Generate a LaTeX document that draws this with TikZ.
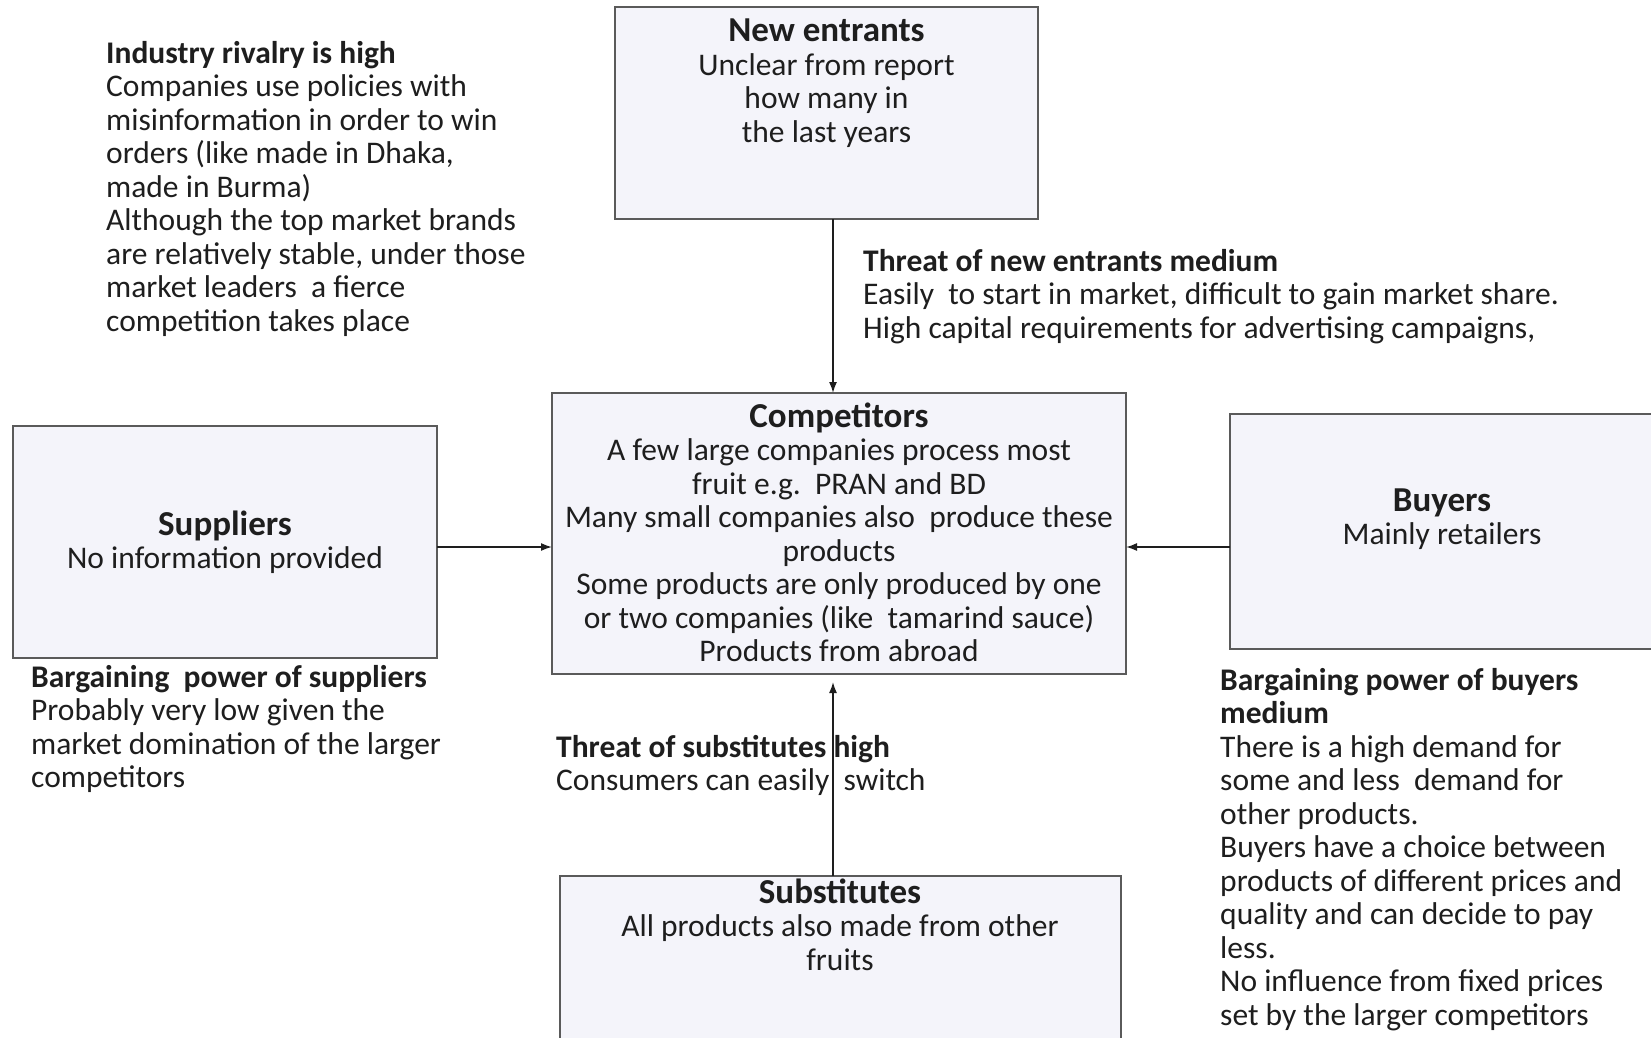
\documentclass[tikz,border=0pt]{standalone}
\usepackage{fontspec}
\setmainfont{Carlito}
\usetikzlibrary{arrows.meta}
\definecolor{boxfill}{HTML}{F4F4FA}
\definecolor{boxline}{HTML}{5A5A5A}
\definecolor{ink}{HTML}{1E1E1E}
\newcommand\bodyf{\fontsize{31.5}{33.5}\selectfont}
\newcommand\titlef{\fontsize{35}{36}\selectfont\bfseries}
\begin{document}
\begin{tikzpicture}[x=1pt,y=-1pt,
  box/.style={draw=boxline, fill=boxfill, line width=2pt, inner sep=0pt, outer sep=0pt},
  btxt/.style={inner sep=0pt, align=center, anchor=base, font=\bodyf, text=ink},
  ltxt/.style={inner sep=0pt, align=left, anchor=base west, font=\bodyf, text=ink},
  arr/.style={-{Latex[length=11pt,width=8pt]}, line width=1.6pt, draw=ink}]
\clip (0,0) rectangle (1651,1038);
\fill[white] (0,0) rectangle (1651,1038);
% boxes
\node[box, minimum width=423pt, minimum height=212pt] (new) at (826.5,113) {};
\node[box, minimum width=574pt, minimum height=281pt] (comp) at (839,533.5) {};
\node[box, minimum width=424pt, minimum height=232pt] (sup) at (225,542) {};
\node[box, minimum width=430pt, minimum height=235pt] (buy) at (1445,531.5) {};
\node[box, minimum width=561pt, minimum height=190pt] (sub) at (840.5,971) {};
% box texts (anchor = baseline of last line)
\node[btxt] (newt) at (826.5,142.5) {{\titlef New entrants}\\Unclear from report\\how many in\\the last years};
\node[btxt] (compt) at (839,661.5) {{\titlef Competitors}\\A few large companies process most\\fruit e.g.\ \ PRAN and BD\\Many small companies also\ \ produce these\\products\\Some products are only produced by one\\or two companies (like\ \ tamarind sauce)\\Products from abroad};
\node[btxt] (supt) at (225,568.5) {{\titlef Suppliers}\\No information provided};
\node[btxt] (buyt) at (1442,544.5) {{\titlef Buyers}\\Mainly retailers};
\node[btxt] (subt) at (840,970) {{\titlef Substitutes}\\All products also made from other\\fruits};
% side texts
\node[ltxt] (rival) at (106,331) {\textbf{Industry rivalry is high}\\Companies use policies with\\misinformation in order to win\\orders (like made in Dhaka,\\made in Burma)\\Although the top market brands\\are relatively stable, under those\\market leaders\ \ a fierce\\competition takes place};
\node[ltxt] (thnew) at (863,338) {\textbf{Threat of new entrants medium}\\Easily\ \ to start in market, difficult to gain market share.\\High capital requirements for advertising campaigns,};
\node[ltxt] (bps) at (31,787.5) {\textbf{Bargaining\ \ power of suppliers}\\Probably very low given the\\market domination of the larger\\competitors};
\node[ltxt] (bpb) at (1220,1025) {\textbf{Bargaining power of buyers}\\\textbf{medium}\\There is a high demand for\\some and less\ \ demand for\\other products.\\Buyers have a choice between\\products of different prices and\\quality and can decide to pay\\less.\\No influence from fixed prices\\set by the larger competitors};
\node[ltxt] (thsub) at (556,790.5) {\textbf{Threat of substitutes high}\\Consumers can easily\ \ switch};
% connectors
\coordinate (vx) at (833,0);
\coordinate (hy) at (0,547);
\draw[arr] (new.south -| vx) -- (comp.north -| vx);
\draw[arr] (sup.east |- hy) -- (comp.west |- hy);
\draw[arr] (buy.west |- hy) -- (comp.east |- hy);
\draw[arr, shorten >=8pt] (sub.north -| vx) -- (comp.south -| vx);
\end{tikzpicture}
\end{document}
